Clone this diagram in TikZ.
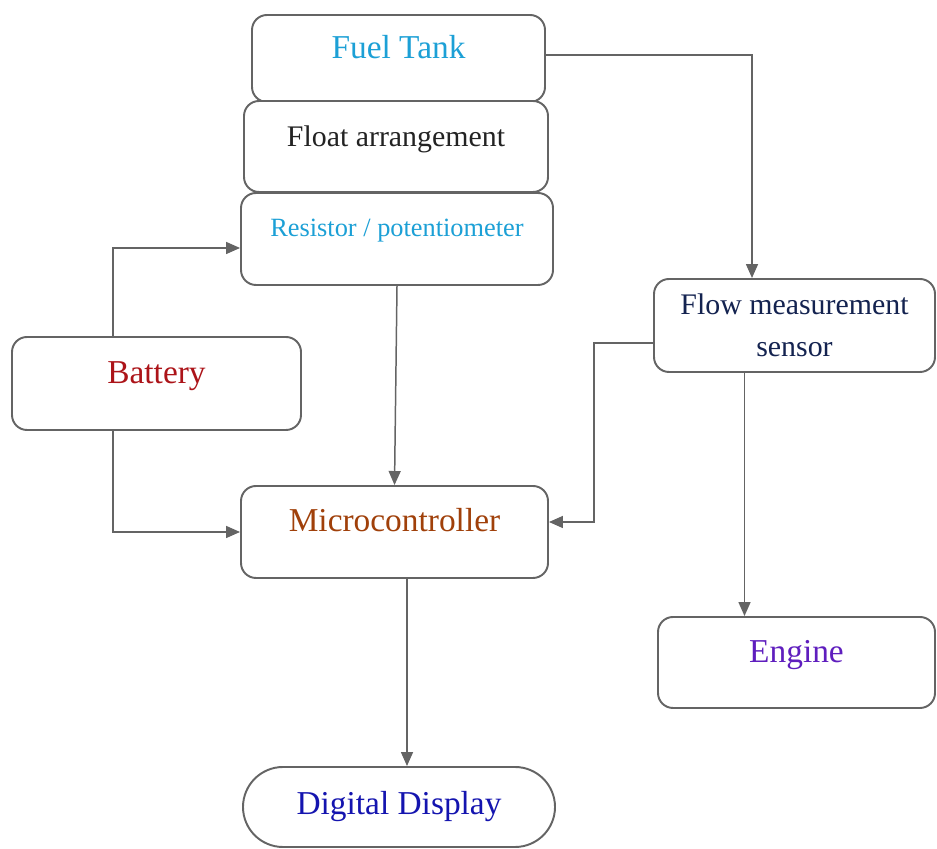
\documentclass[tikz,border=0pt]{standalone}
\usepackage{fontspec}
\setmainfont{Liberation Serif}
\usetikzlibrary{arrows.meta, positioning, shapes.misc}

\definecolor{tankcyan}{RGB}{28,160,214}
\definecolor{floatgray}{RGB}{35,35,35}
\definecolor{batteryred}{RGB}{172,20,25}
\definecolor{microbrown}{RGB}{160,64,10}
\definecolor{flownavy}{RGB}{20,35,80}
\definecolor{enginepurple}{RGB}{95,30,190}
\definecolor{displayblue}{RGB}{20,20,175}
\definecolor{linegray}{RGB}{100,100,100}

\begin{document}
\begin{tikzpicture}[
    block/.style={rectangle, rounded corners=0.3cm, draw=linegray, line width=1.1pt, inner sep=0pt, align=center, fill=white},
    tblock/.style={block, text height=0.45cm, text depth=0.45cm},
    bigfont/.style={font=\fontsize{19}{22}\selectfont},
    arrow/.style={-{Triangle[length=0.28cm, width=0.24cm]}, draw=linegray, line width=0.85pt}
]
    \useasboundingbox (0,0) rectangle (18.74,16.98);

    % Fuel tank with the float and resistor stacked below it
    \node[tblock, bigfont, text=tankcyan, minimum width=5.86cm, minimum height=1.74cm] (tank) at (7.97,15.81) {Fuel Tank};
    \node[tblock, font=\fontsize{17}{20}\selectfont, text=floatgray, minimum width=6.08cm, minimum height=1.82cm] (float) at (7.92,14.05) {Float arrangement};
    \node[block, font=\fontsize{15}{18}\selectfont, text=tankcyan, text height=0.42cm, text depth=0.5cm, minimum width=6.24cm, minimum height=1.84cm] (resistor) at (7.94,12.2) {Resistor / potentiometer};

    % Battery
    \node[tblock, bigfont, text=batteryred, minimum width=5.78cm, minimum height=1.86cm] (battery) at (3.13,9.31) {Battery};

    % Microcontroller
    \node[tblock, bigfont, text=microbrown, minimum width=6.14cm, minimum height=1.84cm] (micro) at (7.89,6.34) {Microcontroller};

    % Flow sensor and engine
    \node[block, font=\fontsize{17}{24}\selectfont, text=flownavy, minimum width=5.62cm, minimum height=1.86cm] (flow) at (15.89,10.47) {Flow measurement\\sensor};
    \node[tblock, bigfont, text=enginepurple, minimum width=5.54cm, minimum height=1.82cm] (engine) at (15.93,3.73) {Engine};

    % Digital display
    \node[rounded rectangle, draw=linegray, line width=1.1pt, inner sep=0pt, bigfont, text=displayblue, minimum width=6.24cm, minimum height=1.6cm] (display) at (7.98,0.84) {Digital Display};

    % Connections
    \draw[arrow] ([yshift=0.07cm]tank.east) -| ([xshift=-0.85cm]flow.north);
    \draw[arrow] ([xshift=-0.87cm]battery.north) |- ([yshift=-0.18cm]resistor.west);
    \draw[arrow] ([xshift=-0.87cm]battery.south) |- (micro.west);
    \draw[arrow] (resistor.south) -- (micro.north);
    \draw[arrow] ([yshift=-0.35cm]flow.west) -- ++(-1.18,0) |- ([yshift=0.2cm]micro.east);
    \draw[arrow] ([xshift=-1cm]flow.south) -- ([xshift=-1cm]flow.south |- engine.north);
    \draw[arrow] ([xshift=0.25cm]micro.south) -- ([xshift=0.25cm]micro.south |- display.north);

\end{tikzpicture}
\end{document}
